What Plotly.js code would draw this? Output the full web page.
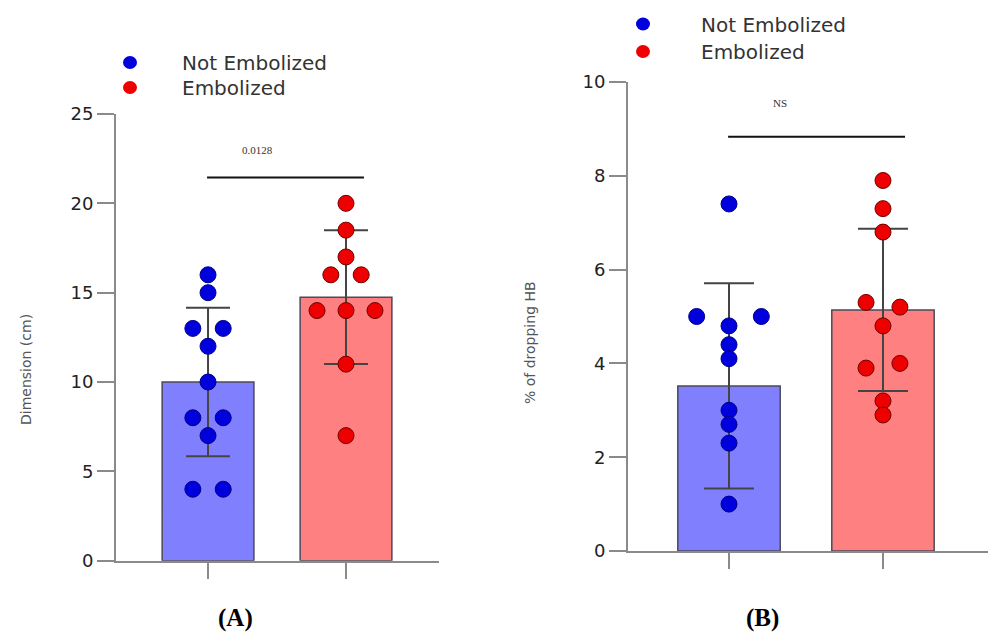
<!DOCTYPE html>
<html>
<head>
<meta charset="utf-8">
<script src="https://cdn.plot.ly/plotly-3.0.1.min.js"></script>
<style>
  html, body { margin: 0; padding: 0; background: #fff; }
  #chart { width: 988px; height: 642px; }
</style>
</head>
<body>
<div id="chart"></div>
<script>
// ---------- data ----------
const groups = ['Not Embolized', 'Embolized'];

// Panel A: Dimension (cm)
const dimNotEmb = [16, 15, 13, 13, 12, 10, 8, 8, 7, 4, 4];
const dimNotEmbJitter = [0, 0, -0.11, 0.11, 0, 0, -0.11, 0.11, 0, -0.11, 0.11];
const dimEmb = [20, 18.5, 17, 16, 16, 14, 14, 14, 11, 7];
const dimEmbJitter = [0, 0, 0, -0.11, 0.11, -0.21, 0, 0.21, 0, 0];
const dimMean = [10.0, 14.75];
const dimSD = [4.15, 3.74];
const dimP = '0.0128';

// Panel B: % of dropping HB
const hbNotEmb = [7.4, 5.0, 5.0, 4.8, 4.4, 4.1, 3.0, 2.7, 2.3, 1.0];
const hbNotEmbJitter = [0, -0.21, 0.21, 0, 0, 0, 0, 0, 0, 0];
const hbEmb = [7.9, 7.3, 6.8, 5.3, 5.2, 4.8, 3.9, 4.0, 3.2, 2.9];
const hbEmbJitter = [0, 0, 0, -0.11, 0.11, 0, -0.11, 0.11, 0, 0];
const hbMean = [3.52, 5.14];
const hbSD = [2.19, 1.73];
const hbP = 'NS';

const yTicksA = [0, 5, 10, 15, 20, 25];
const yTicksB = [0, 2, 4, 6, 8, 10];

// ---------- styles ----------
const barColors = ['#8080ff', '#ff8080'];
const dotColors = ['#0000dd', '#ee0000'];
const dotLines = ['#000088', '#700000'];
const W = 988, H = 642;
const px = v => v / W;
const py = v => 1 - v / H;

function barTrace(means, sds, xa, ya, capHalf) {
  return {
    type: 'bar', x: [0, 1], y: means, xaxis: xa, yaxis: ya,
    width: 0.665,
    marker: { color: barColors, line: { color: '#4a4a5a', width: 1.5 } },
    error_y: { type: 'data', array: sds, visible: true, color: '#444', thickness: 2, width: capHalf },
    showlegend: false, hoverinfo: 'y'
  };
}
function dotTrace(vals, jit, g, xa, ya) {
  return {
    type: 'scatter', mode: 'markers', name: groups[g],
    x: vals.map((v, i) => g + jit[i]), y: vals, xaxis: xa, yaxis: ya,
    marker: { size: 16, color: dotColors[g], line: { color: dotLines[g], width: 1 } },
    showlegend: false
  };
}

const data = [
  barTrace(dimMean, dimSD, 'x', 'y', 22),
  dotTrace(dimNotEmb, dimNotEmbJitter, 0, 'x', 'y'),
  dotTrace(dimEmb, dimEmbJitter, 1, 'x', 'y'),
  barTrace(hbMean, hbSD, 'x2', 'y2', 25),
  dotTrace(hbNotEmb, hbNotEmbJitter, 0, 'x2', 'y2'),
  dotTrace(hbEmb, hbEmbJitter, 1, 'x2', 'y2')
];

const axisLine = { showline: true, linecolor: '#8a8a8a', linewidth: 2, zeroline: false, showgrid: false,
  ticks: 'outside', tickcolor: '#8a8a8a', tickwidth: 2 };
const tickFont = { family: 'DejaVu Sans', size: 18, color: '#222' };

function note(x, y, text, font, extra) {
  return Object.assign({ xref: 'paper', yref: 'paper', x: px(x), y: py(y), text: text, showarrow: false,
    xanchor: 'center', yanchor: 'middle', font: font }, extra || {});
}
const legendFont = { family: 'DejaVu Sans', size: 20, color: '#333' };
const titleFont = { family: 'DejaVu Sans', size: 14, color: '#555' };
const sigFont = { family: 'Liberation Serif', size: 11, color: '#333' };
const panelFont = { family: 'Liberation Serif', size: 25, color: '#000' };

const layout = {
  width: W, height: H,
  margin: { l: 0, r: 0, t: 0, b: 0 },
  paper_bgcolor: '#fff', plot_bgcolor: '#fff',
  bargap: 0,
  xaxis: Object.assign({}, axisLine, { domain: [px(116), px(439)], range: [-0.667, 1.674],
    tickvals: [0, 1], ticktext: ['', ''], ticklen: 16, anchor: 'y' }),
  yaxis: Object.assign({}, axisLine, { domain: [py(560.7), py(114)], range: [0, 25],
    tickvals: yTicksA, ticklen: 17, tickfont: tickFont, anchor: 'x' }),
  xaxis2: Object.assign({}, axisLine, { domain: [px(628), 1], range: [-0.656, 1.682],
    tickvals: [0, 1], ticktext: ['', ''], ticklen: 16, anchor: 'y2' }),
  yaxis2: Object.assign({}, axisLine, { domain: [py(551), py(82)], range: [0, 10],
    tickvals: yTicksB, ticklen: 17, tickfont: tickFont, anchor: 'x2' }),
  shapes: [
    { type: 'line', xref: 'x', yref: 'y', x0: -0.007, x1: 1.13, y0: 21.44, y1: 21.44, line: { color: '#111', width: 2 } },
    { type: 'line', xref: 'x2', yref: 'y2', x0: -0.006, x1: 1.143, y0: 8.83, y1: 8.83, line: { color: '#111', width: 2 } },
    // legend dots
    { type: 'circle', xref: 'paper', yref: 'paper', x0: px(123), x1: px(137), y0: py(56), y1: py(69), fillcolor: dotColors[0], line: { width: 0 } },
    { type: 'circle', xref: 'paper', yref: 'paper', x0: px(123), x1: px(137), y0: py(81), y1: py(94), fillcolor: dotColors[1], line: { width: 0 } },
    { type: 'circle', xref: 'paper', yref: 'paper', x0: px(636), x1: px(650), y0: py(17.5), y1: py(30.5), fillcolor: dotColors[0], line: { width: 0 } },
    { type: 'circle', xref: 'paper', yref: 'paper', x0: px(636), x1: px(650), y0: py(45), y1: py(58), fillcolor: dotColors[1], line: { width: 0 } }
  ],
  annotations: [
    { xref: 'x', yref: 'y', x: 0.36, y: 23.0, text: dimP, showarrow: false, xanchor: 'center', yanchor: 'middle', font: sigFont },
    { xref: 'x2', yref: 'y2', x: 0.33, y: 9.55, text: hbP, showarrow: false, xanchor: 'center', yanchor: 'middle', font: sigFont },
    // y titles
    note(26, 370, 'Dimension (cm)', titleFont, { textangle: -90 }),
    note(530, 343, '% of dropping HB', titleFont, { textangle: -90 }),
    // legends
    note(180, 63, groups[0], legendFont, { xanchor: 'left' }),
    note(180, 88, groups[1], legendFont, { xanchor: 'left' }),
    note(699, 25, groups[0], legendFont, { xanchor: 'left' }),
    note(699, 52, groups[1], legendFont, { xanchor: 'left' }),
    // panel labels
    note(235, 618, '<b>(A)</b>', panelFont),
    note(762, 618, '<b>(B)</b>', panelFont)
  ]
};

Plotly.newPlot('chart', data, layout, { displayModeBar: false, staticPlot: true });
</script>
</body>
</html>
